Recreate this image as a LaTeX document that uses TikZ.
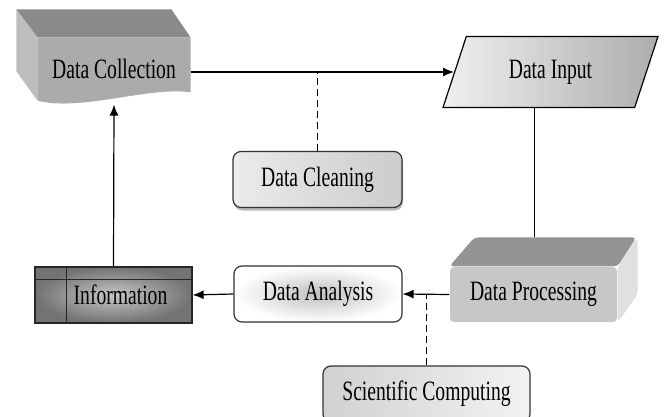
\documentclass[tikz,border=0pt]{standalone}
\usepackage{fontspec}
\setmainfont{Liberation Serif}[FakeStretch=0.7]
\usetikzlibrary{shapes.geometric,arrows.meta,calc,shadows}
\definecolor{facedark}{gray}{0.54}
\definecolor{facemid}{gray}{0.67}
\definecolor{facelight}{gray}{0.74}
\begin{document}
\begin{tikzpicture}[x=1pt,y=-1pt,line width=1.2pt,
	font=\fontsize{28}{30}\selectfont,
	tip/.style={-{Latex[length=11pt,width=9pt]}},
	dashline/.style={dash pattern=on 7pt off 4pt},
	roundbox/.style={draw=black!80,rounded corners=8pt,minimum height=56pt},
	cleanbox/.style={roundbox,left color=black!8,right color=black!20,
		drop shadow={shadow xshift=1pt,shadow yshift=-3pt,fill=black!45,opacity=.6}},
	analbox/.style={roundbox,inner color=black!25,outer color=white},
	compbox/.style={roundbox,left color=black!18,right color=black!5},
	procbox/.style={rounded corners=4pt,fill=black!22,minimum width=167pt,minimum height=55pt},
	inputbox/.style={trapezium,draw,trapezium left angle=53,trapezium right angle=127,
		trapezium stretches body,minimum width=215pt,minimum height=71pt,
		left color=black!6,right color=black!32},
	infobox/.style={draw=black!85,minimum width=157pt,minimum height=56pt,
		inner color=black!22,outer color=black!55,
		path picture={
			\draw[line width=1pt] ([yshift=-12pt]path picture bounding box.north west)
				-- ([yshift=-12pt]path picture bounding box.north east);
			\draw[line width=1pt] ([xshift=31pt]path picture bounding box.north west)
				-- ([xshift=31pt]path picture bounding box.south west);}}]
	\useasboundingbox (0,0) rectangle (664,417);

	% block with a wavy front face
	\node[minimum width=152pt,minimum height=62pt] (dcoll) at (114,69) {};
	\fill[facedark] (dcoll.north west) -- ++(-21,-28) -- ++(155,0) -- (dcoll.north east) -- cycle;
	\fill[facelight] (dcoll.north west) -- ++(-21,-28) -- ++(0,62) -- (dcoll.south west) -- cycle;
	\fill[facemid] (dcoll.north west) -- (dcoll.north east) -- ++(0,55)
		.. controls (150,86) and (80,112) .. (dcoll.south west) -- cycle;
	\node at (dcoll) {Data Collection};

	\node[inputbox] (dinput) at (550.5,72) {Data Input};
	\node[cleanbox,minimum width=169pt] (dclean) at (317.5,179.5) {Data Cleaning};

	% block with top and side faces
	\node[procbox] (dproc) at (533.5,294.5) {Data Processing};
	\fill[black!42,rounded corners=4pt] (dproc.north west) -- ++(25,-29) -- ++(162,0) -- (dproc.north east) -- cycle;
	\fill[black!12,rounded corners=4pt] (dproc.north east) -- ++(20,-29) -- ++(0,57) -- (dproc.south east) -- cycle;
	\coordinate (dproctop) at ($(dproc.north)+(1,-29)$);

	\node[analbox,minimum width=168pt] (danal) at (318,294) {Data Analysis};
	\node[compbox,minimum width=207pt] (scomp) at (426.5,394) {Scientific Computing};
	\node[infobox] (info) at (113.5,295) {\hspace{14pt}Information};

	\draw[tip] (dinput.west -| dcoll.east) -- (dinput.west);
	\draw[dashline] (dclean.north) -- (dclean.north |- dinput.west);
	\draw (dproctop) -- (dproctop |- dinput.south);
	\draw[tip] (dproc.west) -- (danal.east);
	\draw[dashline] (scomp.north) -- (scomp.north |- dproc.west);
	\draw[tip] (danal.west) -- (info.east);
	\draw[tip] (info.north) -- ($(dcoll.south)+(0,4)$);
\end{tikzpicture}
\end{document}
